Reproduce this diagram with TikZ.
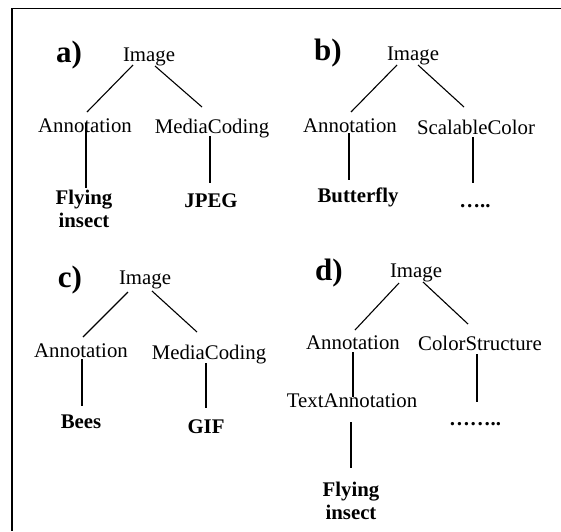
\documentclass[tikz,border=0pt]{standalone}
\usepackage{fontspec}
\setmainfont{Liberation Serif}
\begin{document}
\begin{tikzpicture}[x=1pt,y=-1pt,
  every node/.style={inner sep=0pt,outer sep=0pt,anchor=base},
  term/.style={font=\fontsize{20.8}{23}\selectfont},
  leaf/.style={font=\fontsize{20.8}{23}\selectfont\bfseries,align=center},
  tag/.style={font=\fontsize{31}{34}\selectfont\bfseries},
  edge/.style={line width=1.1pt},
  frameline/.style={line width=1.8pt}]
\useasboundingbox (0,0) rectangle (561,531);

% open frame: top and left rules
\coordinate (fTL) at (12,8.5);
\coordinate (fTR) at (561,8.5);
\coordinate (fBL) at (12,531);
\draw[frameline] (fTR) -- (fTL) -- (fBL);

% ---------- a) ----------
\node[tag]  (labA) at (69,62)  {a)};
\node[term] (imgA) at (149,61) {Image};
\node[term] (annA) at (85,132) {Annotation};
\node[term] (medA) at (212,133) {MediaCoding};
% two-line leaves are anchored at the baseline of their last line
\node[leaf] (flyA) at (84,227) {Flying\\insect};
\node[leaf] (jpgA) at (211,207) {JPEG};
\draw[edge] ([shift={(-16,4)}]imgA.base) -- ([shift={(2,-20)}]annA.base);
\draw[edge] ([shift={(6,5)}]imgA.base) -- ([shift={(-10,-26)}]medA.base);
\draw[edge] ([shift={(1,-9)}]annA.base) -- ([shift={(2,-39)}]flyA.base);
\draw[edge] ([shift={(-2,3)}]medA.base) -- ([shift={(-1,-24)}]jpgA.base);

% ---------- b) ----------
\node[tag]  (labB) at (328,60)  {b)};
\node[term] (imgB) at (413,60) {Image};
\node[term] (annB) at (350,132) {Annotation};
\node[term] (scB)  at (476,134) {ScalableColor};
\node[leaf] (butB) at (358,202) {Butterfly};
\node[leaf] (dotB) at (475,207) {…..};
\draw[edge] ([shift={(-16,5)}]imgB.base) -- ([shift={(1,-20)}]annB.base);
\draw[edge] ([shift={(5,5)}]imgB.base) -- ([shift={(-12,-27)}]scB.base);
\draw[edge] ([shift={(-1,1)}]annB.base) -- ([shift={(-9,-22)}]butB.base);
\draw[edge] ([shift={(-3,3)}]scB.base) -- ([shift={(-2,-24)}]dotB.base);

% ---------- c) ----------
\node[tag]  (labC) at (70,287)  {c)};
\node[term] (imgC) at (145,284) {Image};
\node[term] (annC) at (81,357) {Annotation};
\node[term] (medC) at (209,359) {MediaCoding};
\node[leaf] (beeC) at (81,428) {Bees};
\node[leaf] (gifC) at (206,433) {GIF};
\draw[edge] ([shift={(-17,8)}]imgC.base) -- ([shift={(2,-20)}]annC.base);
\draw[edge] ([shift={(7,7)}]imgC.base) -- ([shift={(-12,-27)}]medC.base);
\draw[edge] ([shift={(1,2)}]annC.base) -- ([shift={(1,-22)}]beeC.base);
\draw[edge] ([shift={(-3,4)}]medC.base) -- ([shift={(0,-25)}]gifC.base);

% ---------- d) ----------
\node[tag]  (labD) at (329,280)  {d)};
\node[term] (imgD) at (416,277) {Image};
\node[term] (annD) at (353,349) {Annotation};
\node[term] (csD)  at (480,350) {ColorStructure};
\node[term] (taD)  at (352,407) {TextAnnotation};
\node[leaf] (dotD) at (475,425) {……..};
\node[leaf] (flyD) at (351,519) {Flying\\insect};
\draw[edge] ([shift={(-17,6)}]imgD.base) -- ([shift={(2,-19)}]annD.base);
\draw[edge] ([shift={(7,5)}]imgD.base) -- ([shift={(-12,-26)}]csD.base);
\draw[edge] ([shift={(0,3)}]annD.base) -- ([shift={(1,-10)}]taD.base);
\draw[edge] ([shift={(-3,4)}]csD.base) -- ([shift={(2,-23)}]dotD.base);
\draw[edge] ([shift={(-1,15)}]taD.base) -- ([shift={(0,-51)}]flyD.base);
\end{tikzpicture}
\end{document}
